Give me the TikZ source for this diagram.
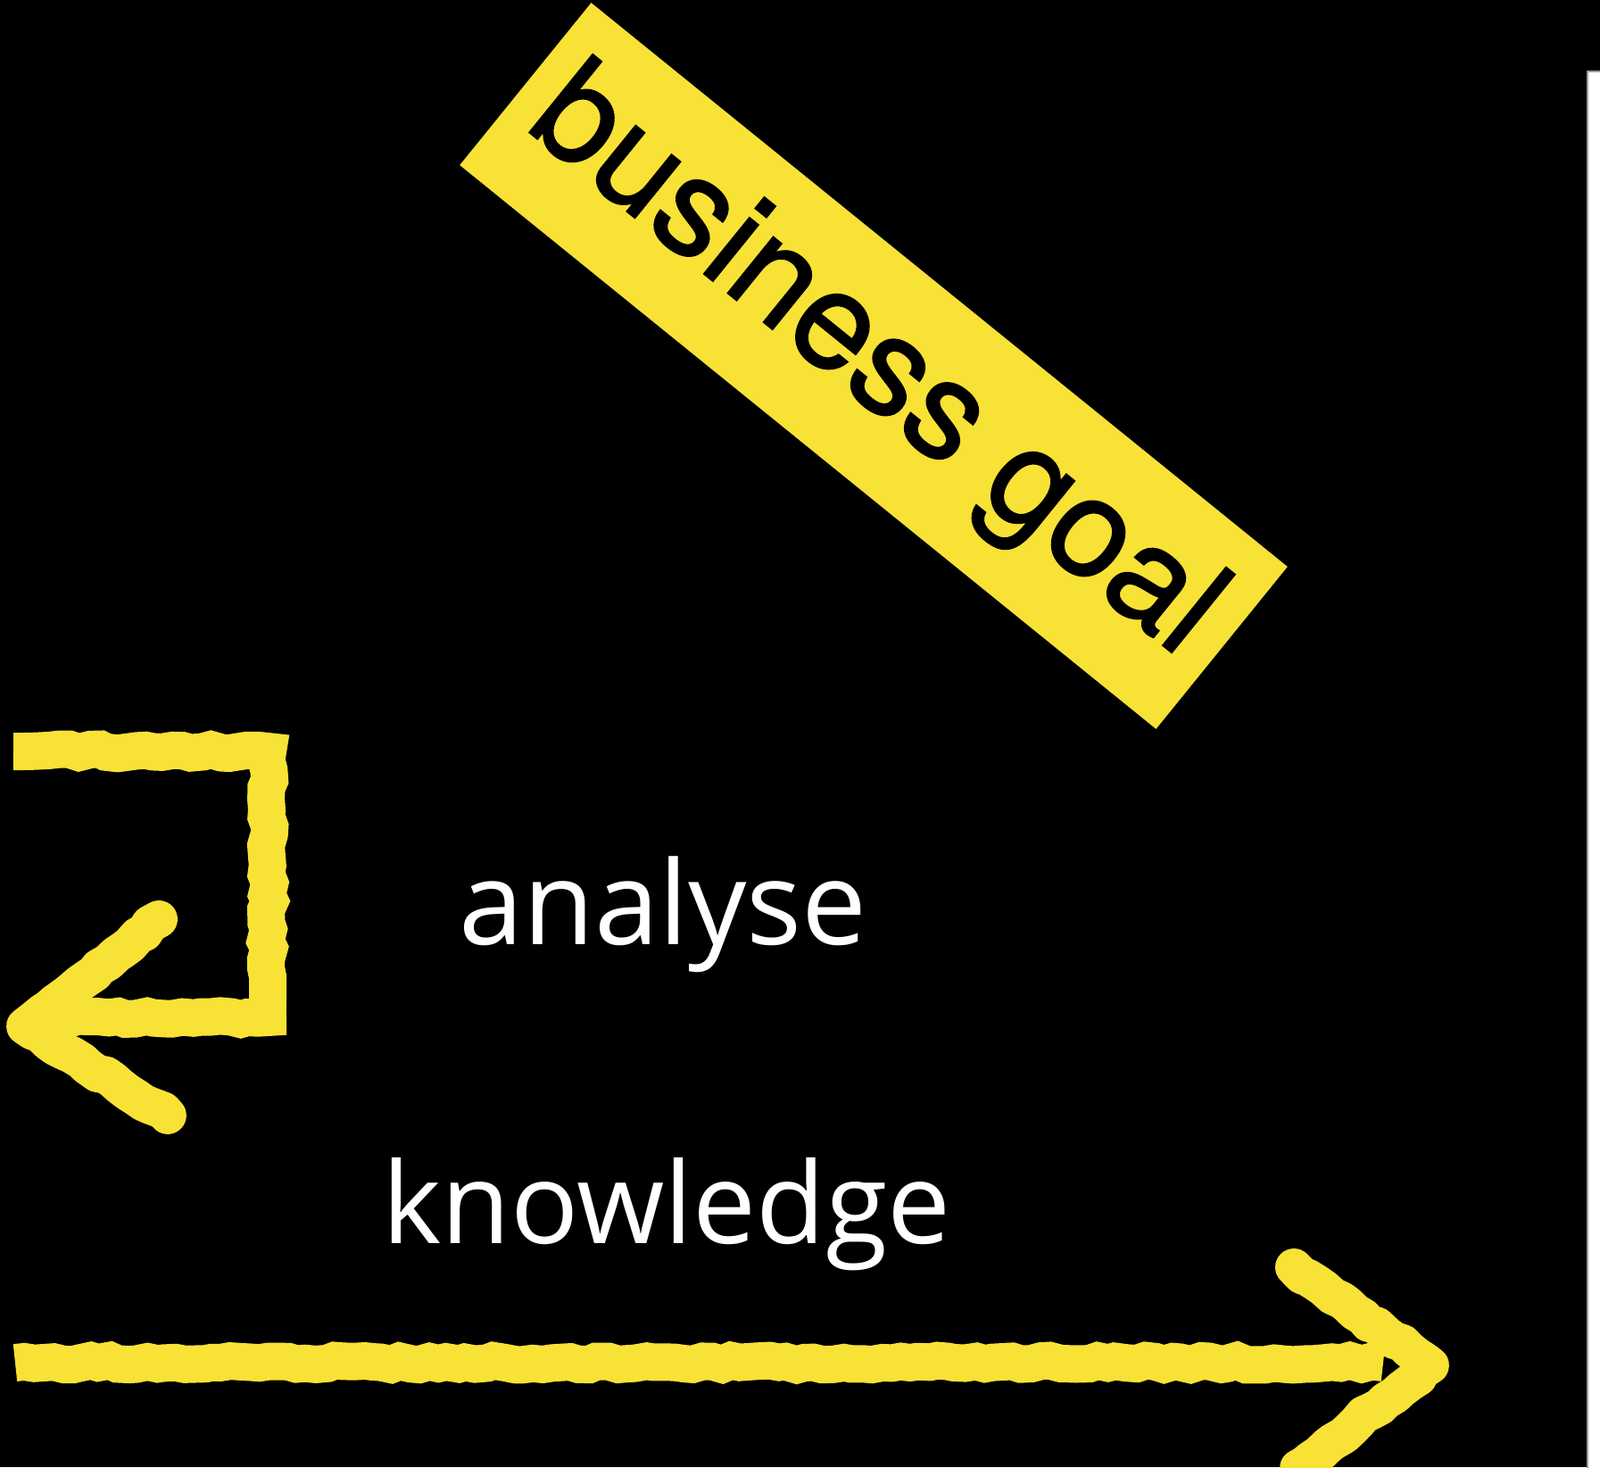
\documentclass[tikz,border=0pt]{standalone}
\usepackage{fontspec}
\setmainfont{Open Sans}
\newfontfamily\goalfont[FakeBold=1.2]{TeX Gyre Heros}
\usetikzlibrary{decorations.pathmorphing}

\definecolor{chalk}{RGB}{249,226,54}

\tikzset{
  chalkline/.style={draw=chalk, line width=0.42cm, line join=miter,
    decorate, decoration={random steps, segment length=3pt, amplitude=0.7pt}},
  goalbox/.style={fill=chalk, inner sep=0pt,
    minimum width=10.04cm, minimum height=2.34cm},
  goaltext/.style={text=black, inner sep=0pt,
    font=\goalfont\fontsize{44}{44}\selectfont},
  word/.style={text=white, anchor=base},
}

\begin{document}
\begin{tikzpicture}

\fill [black] (0,0) rectangle (17.93,-16.44) ;
\useasboundingbox (0,0) rectangle (17.93,-16.44) ;

% strip on the right edge
\filldraw [fill=white, draw=black!40] (17.79,-0.80) rectangle (17.98,-16.50) ;

\node [goalbox, rotate=-39] (goal) at (9.79,-4.10) {} ;
\node [goaltext, rotate=-39] (goaltxt) at (goal.center) {business goal} ;

\node [word, font=\fontsize{37}{37}\selectfont] (analyse) at (7.43,-10.58) {analyse} ;
\node [word, font=\fontsize{36}{36}\selectfont] (knowledge) at (7.47,-13.93) {knowledge} ;

% bracket arrow, pointing left
\coordinate (b1) at (0.15,-8.42) ;
\coordinate (b2) at (3.00,-8.42) ;
\coordinate (b3) at (3.00,-11.40) ;
\coordinate (b4) at (0.60,-11.40) ;
\coordinate (tipL) at (0.28,-11.50) ;
\draw [chalkline] (b1) -- (b2) -- (b3) -- (b4) ;
\draw [chalkline, line cap=round, line join=round] (1.78,-10.30) -- (tipL) -- (1.88,-12.50) ;

% long arrow, pointing right
\coordinate (s1) at (0.17,-15.27) ;
\coordinate (s2) at (15.50,-15.27) ;
\coordinate (tipR) at (16.03,-15.30) ;
\draw [chalkline] (s1) -- (s2) ;
\draw [chalkline, line cap=round, line join=round] (14.50,-14.20) -- (tipR) -- (14.55,-16.45) ;

\end{tikzpicture}
\end{document}
